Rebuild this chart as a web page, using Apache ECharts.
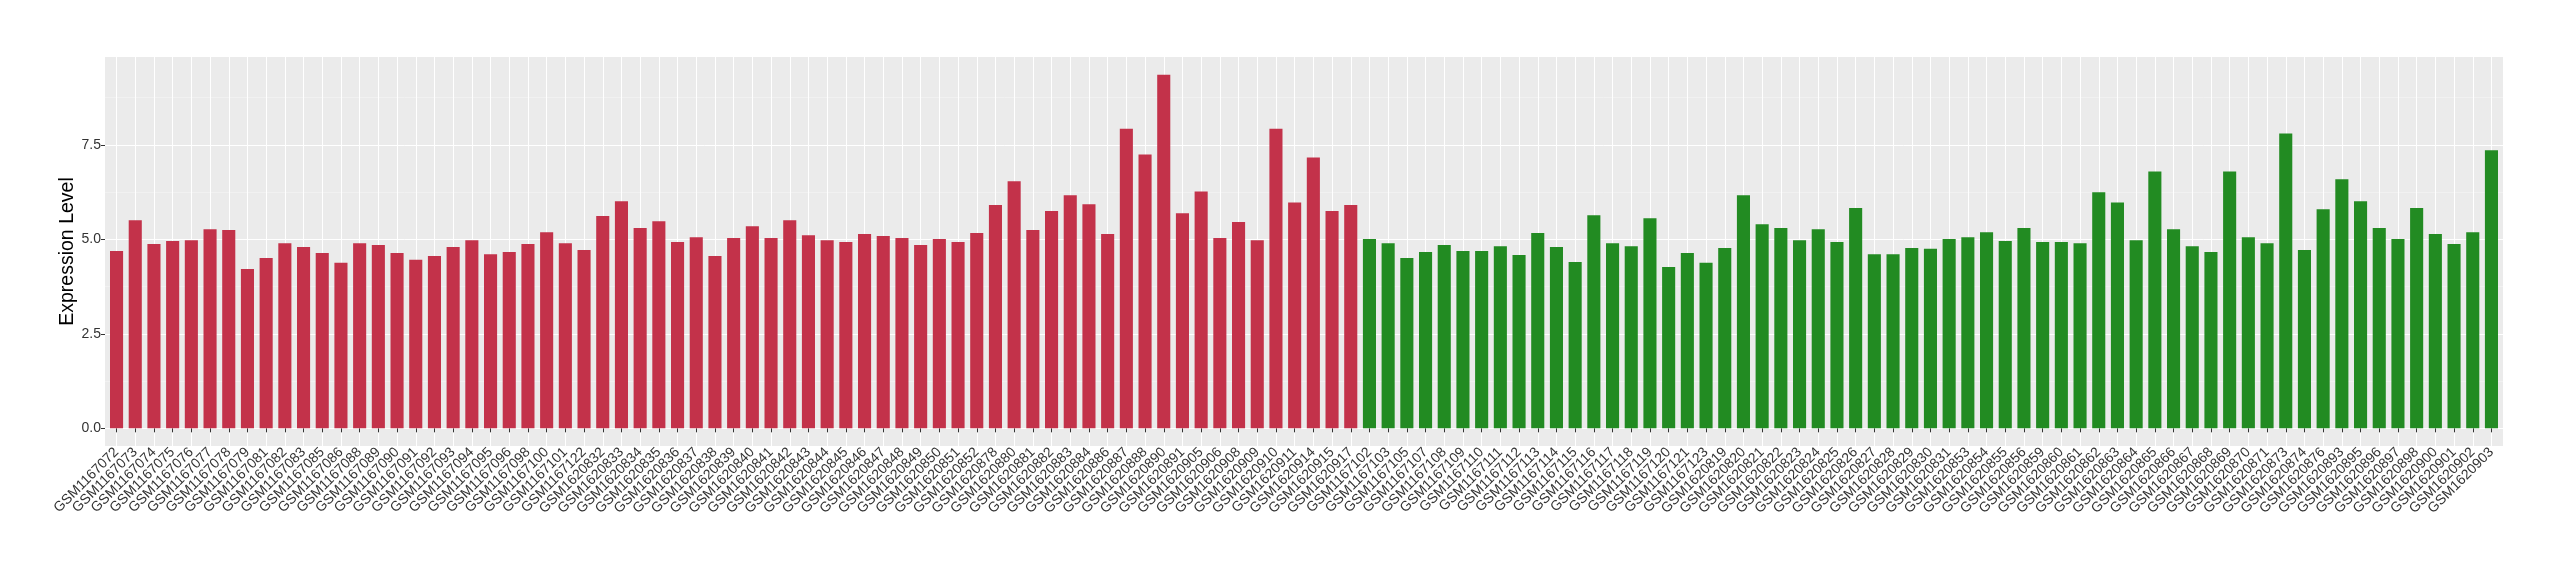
<!DOCTYPE html>
<html>
<head>
<meta charset="utf-8">
<script src="https://cdn.jsdelivr.net/npm/echarts@6/dist/echarts.min.js"></script>
<style>
html,body{margin:0;padding:0;background:#fff;}
#chart{width:2560px;height:580px;}
</style>
</head>
<body>
<div id="chart"></div>
<script>
// ---- data ----
const redNames = ["GSM1167072","GSM1167073","GSM1167074","GSM1167075","GSM1167076","GSM1167077","GSM1167078","GSM1167079","GSM1167081","GSM1167082","GSM1167083","GSM1167085","GSM1167086","GSM1167088","GSM1167089","GSM1167090","GSM1167091","GSM1167092","GSM1167093","GSM1167094","GSM1167095","GSM1167096","GSM1167098","GSM1167100","GSM1167101","GSM1167122",
"GSM1620832","GSM1620833","GSM1620834","GSM1620835","GSM1620836","GSM1620837","GSM1620838","GSM1620839","GSM1620840","GSM1620841","GSM1620842","GSM1620843","GSM1620844","GSM1620845","GSM1620846","GSM1620847","GSM1620848","GSM1620849","GSM1620850","GSM1620851","GSM1620852",
"GSM1620878","GSM1620880","GSM1620881","GSM1620882","GSM1620883","GSM1620884","GSM1620886","GSM1620887","GSM1620888","GSM1620890","GSM1620891",
"GSM1620905","GSM1620906","GSM1620908","GSM1620909","GSM1620910","GSM1620911","GSM1620914","GSM1620915","GSM1620917"];
const redValues = [4.69,5.51,4.88,4.96,4.98,5.27,5.25,4.22,4.51,4.90,4.80,4.64,4.38,4.90,4.85,4.64,4.46,4.56,4.80,4.98,4.61,4.67,4.88,5.19,4.90,4.72,
5.62,6.01,5.30,5.48,4.93,5.06,4.56,5.04,5.35,5.04,5.51,5.11,4.98,4.93,5.14,5.09,5.04,4.85,5.01,4.93,5.17,
5.91,6.54,5.25,5.75,6.17,5.93,5.14,7.93,7.25,9.36,5.69,
6.27,5.04,5.46,4.98,7.93,5.98,7.17,5.75,5.91];
const greenNames = ["GSM1167102","GSM1167103","GSM1167105","GSM1167107","GSM1167108","GSM1167109","GSM1167110","GSM1167111","GSM1167112","GSM1167113","GSM1167114","GSM1167115","GSM1167116","GSM1167117","GSM1167118","GSM1167119","GSM1167120","GSM1167121","GSM1167123",
"GSM1620819","GSM1620820","GSM1620821","GSM1620822","GSM1620823","GSM1620824","GSM1620825","GSM1620826","GSM1620827","GSM1620828","GSM1620829","GSM1620830","GSM1620831",
"GSM1620853","GSM1620854","GSM1620855","GSM1620856","GSM1620859","GSM1620860","GSM1620861","GSM1620862","GSM1620863","GSM1620864","GSM1620865","GSM1620866","GSM1620867","GSM1620868","GSM1620869","GSM1620870","GSM1620871","GSM1620873","GSM1620874","GSM1620876",
"GSM1620893","GSM1620895","GSM1620896","GSM1620897","GSM1620898","GSM1620900","GSM1620901","GSM1620902","GSM1620903"];
const greenValues = [5.01,4.90,4.51,4.67,4.85,4.69,4.69,4.82,4.59,5.17,4.80,4.40,5.64,4.90,4.82,5.56,4.27,4.64,4.38,
4.77,6.17,5.40,5.30,4.98,5.27,4.93,5.83,4.61,4.61,4.77,4.75,5.01,
5.06,5.19,4.96,5.30,4.93,4.93,4.90,6.25,5.98,4.98,6.80,5.27,4.82,4.67,6.80,5.06,4.90,7.80,4.72,5.80,
6.59,6.01,5.30,5.01,5.83,5.14,4.88,5.19,7.36];
const yTicks = [0, 2.5, 5, 7.5];
const yMinorTicks = [1.25, 3.75, 6.25, 8.75];
const yName = "Expression Level";

// ---- build ----
const categories = redNames.concat(greenNames);
const redSeries = redValues.concat(greenNames.map(() => null));
const greenSeries = redNames.map(() => null).concat(greenValues);
const yMin = -0.468, yMax = 9.828;
const font = "'Liberation Sans', Arial, Helvetica, sans-serif";

const chart = echarts.init(document.getElementById('chart'), null, {renderer: 'canvas'});
chart.setOption({
  animation: false,
  backgroundColor: '#ffffff',
  grid: [
    {left: 105, top: 57, width: 2398, height: 389, show: true, backgroundColor: '#EBEBEB', borderWidth: 0, containLabel: false},
    {left: 107.2, top: 57, width: 2393.6, height: 389, show: false, containLabel: false}
  ],
  xAxis: [
    {gridIndex: 0, type: 'value', min: 0, max: 1, show: false},
    {gridIndex: 1, type: 'category', data: categories, boundaryGap: true,
      axisLine: {show: false},
      axisTick: {show: true, alignWithLabel: true, length: 4, lineStyle: {color: '#333333', width: 1}},
      axisLabel: {show: true, interval: 0, rotate: 45, fontSize: 14, color: '#333333', fontFamily: font, margin: 4, padding: [10, 0, 0, 0]},
      splitLine: {show: true, alignWithLabel: true, lineStyle: {color: '#FFFFFF', width: 1}}
    }
  ],
  yAxis: [
    {gridIndex: 0, type: 'value', min: yMin, max: yMax,
      name: yName, nameLocation: 'middle', nameRotate: 90, nameGap: 27, nameMoveOverlap: false,
      nameTextStyle: {fontSize: 19.5, color: '#000000', fontFamily: font},
      axisLine: {show: false},
      axisTick: {show: true, customValues: yTicks, length: 4, lineStyle: {color: '#333333', width: 1}},
      axisLabel: {show: true, customValues: yTicks, formatter: v => v.toFixed(1), fontSize: 14, color: '#333333', fontFamily: font, margin: 4},
      splitLine: {show: true, lineStyle: {color: '#FFFFFF', width: 1}}
    },
    {gridIndex: 0, type: 'value', min: yMin, max: yMax,
      axisLine: {show: false},
      axisTick: {show: false, customValues: yMinorTicks},
      axisLabel: {show: false, customValues: yMinorTicks},
      splitLine: {show: true, lineStyle: {color: '#F5F5F5', width: 0.6}}
    },
    {gridIndex: 1, type: 'value', min: yMin, max: yMax, show: false,
      splitLine: {show: false}}
  ],
  series: [
    {type: 'bar', name: 'red', xAxisIndex: 1, yAxisIndex: 2, stack: 'g', data: redSeries,
      barCategoryGap: '30%', itemStyle: {color: '#C3324A'}},
    {type: 'bar', name: 'green', xAxisIndex: 1, yAxisIndex: 2, stack: 'g', data: greenSeries,
      barCategoryGap: '30%', itemStyle: {color: '#228B22'}}
  ]
});
</script>
</body>
</html>
